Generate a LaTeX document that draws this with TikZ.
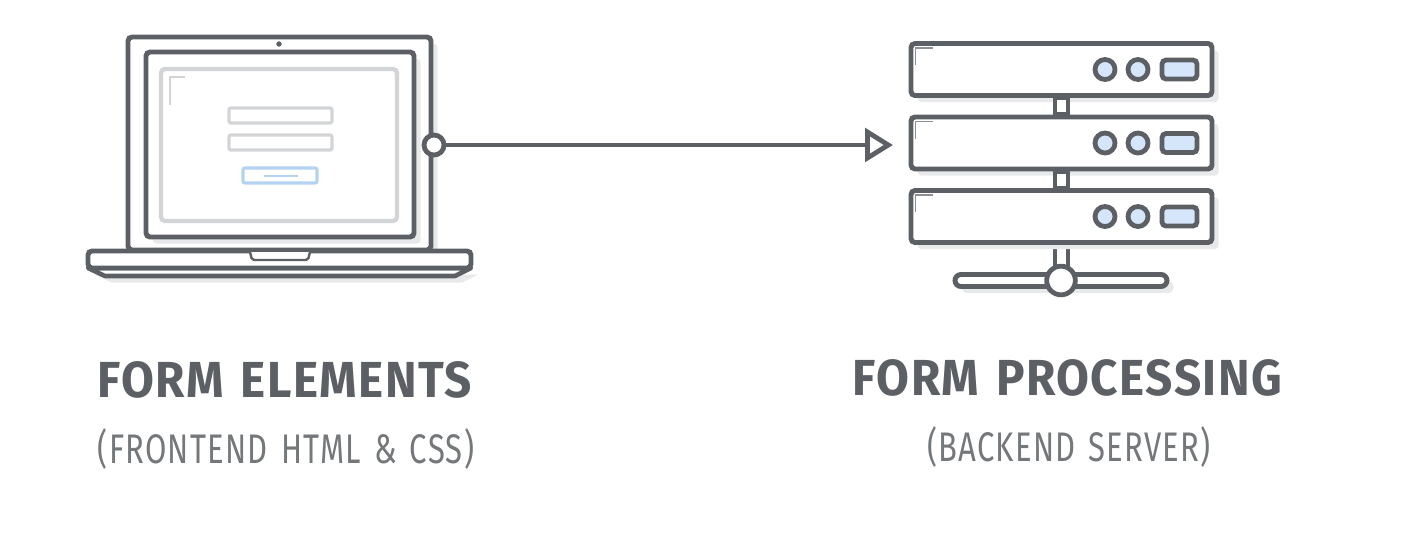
\documentclass[tikz,border=0pt]{standalone}
\usepackage{fontspec}
\setmainfont{Fira Sans}
\newfontfamily\headfont[FakeStretch=0.94,WordSpace=1.3,LetterSpace=3]{Fira Sans Bold}
\newfontfamily\subfont[FakeStretch=0.75,WordSpace=1.4,LetterSpace=3]{Fira Sans}
\usetikzlibrary{positioning,calc,shadows,arrows.meta}
\definecolor{iconline}{HTML}{5C6064}
\definecolor{screenline}{HTML}{D2D4D6}
\definecolor{shadowgrey}{HTML}{E8E9EA}
\definecolor{ledfill}{HTML}{D6E6FA}
\definecolor{btnline}{HTML}{B4D2F2}
\tikzset{
	x=0.75pt,y=-0.75pt,
	box/.style 2 args={draw=iconline,line width=3.7pt,fill=white,rounded corners=3pt,inner sep=0pt,minimum width=#1*0.75pt,minimum height=#2*0.75pt},
	shade box/.style={drop shadow={shadow xshift=5pt,shadow yshift=-5pt,fill=shadowgrey,opacity=1}},
	led/.style={draw=iconline,line width=3.6pt,fill=ledfill,circle,inner sep=0pt,minimum size=15pt},
	port/.style={draw=iconline,line width=3.6pt,fill=white,circle,inner sep=0pt},
	corner/.style={draw=screenline,line width=1.1pt},
	srvcorner/.style={draw=iconline!70,line width=1.3pt},
	head/.style={text=iconline,font=\headfont\fontsize{38}{38}\selectfont,inner sep=0pt},
	sub/.style={text=iconline!85,font=\subfont\fontsize{31}{31}\selectfont,inner sep=0pt}
}
\begin{document}
\begin{tikzpicture}
	\useasboundingbox (0,0) rectangle (1419,544);
	% laptop
	\node[box={303}{213},shade box] (lid) at (279.5,143.5) {};
	\node[box={268}{185},shade box] (bezel) at (280,144.5) {};
	\node[box={236}{152},draw=screenline,line width=3.2pt] (screen) at (279,145) {};
	\node[draw=iconline,fill=iconline,circle,inner sep=0pt,minimum size=3.6pt] (cam) at (279,44) {};
	\node[box={103}{15},draw=screenline,line width=2.4pt,rounded corners=1.5pt] (field1) at (280.5,115.5) {};
	\node[box={103}{15},draw=screenline,line width=2.4pt,rounded corners=1.5pt] (field2) at (280.5,142.5) {};
	\node[box={74}{15},draw=btnline,line width=2.4pt,rounded corners=1.5pt] (btn) at (280,175.5) {};
	\draw[btnline,line width=0.8pt] (264,176) -- (298,176);
	\draw[corner] (185,77) -- (170,77) -- (170,105);
	\draw[iconline,line width=3.4pt,line join=round,fill=white,drop shadow={shadow xshift=5pt,shadow yshift=-5pt,fill=shadowgrey,opacity=1}] (88,268) -- (105,276) -- (455,276) -- (471,268) -- cycle;
	\node[box={383}{17}] (base) at (279.5,259.5) {};
	\draw[iconline,line width=1.8pt,fill=white,rounded corners=1.5pt] (250,252) -- (252,260) -- (308,260) -- (310,252);
	% server stack
	\draw[iconline,line width=3.6pt,fill=white] (1055,243) rectangle (1068,273);
	\foreach \n/\y in {1/69.5,2/143,3/216.5} {
		\node[box={301}{52},shade box] (srv\n) at (1061.5,\y) {};
		\node[led] (led\n a) at (1105,\y) {};
		\node[led] (led\n b) at (1138,\y) {};
		\node[box={35}{19},fill=ledfill,line width=3.6pt] (disk\n) at (1179.5,\y) {};
		\draw[srvcorner] ($(srv\n.north west)+(24,7)$) -- ($(srv\n.north west)+(7,7)$) -- ($(srv\n.north west)+(7,24)$);
	}
	\draw[iconline,line width=3.6pt,fill=white] (srv1.south -| 1055,0) rectangle (srv2.north -| 1068,0);
	\draw[iconline,line width=3.6pt,fill=white] (srv2.south -| 1055,0) rectangle (srv3.north -| 1068,0);
	\node[box={212}{12},rounded corners=4.5pt,shade box] (bus) at (1061,280.5) {};
	\node[port,minimum size=21.5pt] (hub) at (1061,280.5) {};
	% link
	\node[port,minimum size=15pt] (out) at (434,145) {};
	\coordinate (tip) at (893,145);
	\draw[iconline,line width=3.6pt,-{Triangle[open,length=21pt,width=25pt,line width=3.6pt,fill=white]}] (out) -- (tip);
	% captions
	\node[head] (formel) at (284.5,380) {FORM ELEMENTS};
	\node[sub] (formelsub) at (286,449.5) {(FRONTEND HTML \& CSS)};
	\node[head] (formproc) at (1067.5,378) {FORM PROCESSING};
	\node[sub] (formprocsub) at (1069,447.5) {(BACKEND SERVER)};
\end{tikzpicture}
\end{document}
